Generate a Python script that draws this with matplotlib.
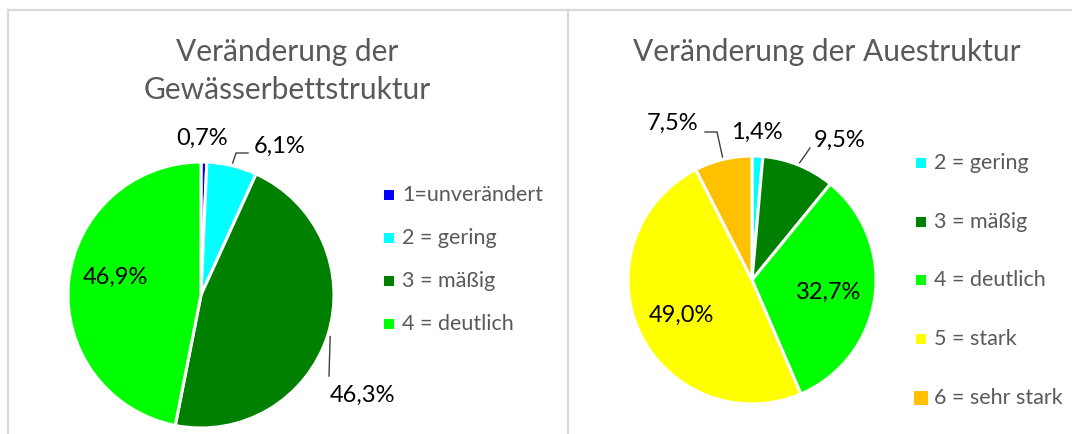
import numpy as np
import matplotlib
matplotlib.use("Agg")
import matplotlib.pyplot as plt

plt.rcParams['font.family'] = ['Lato', 'DejaVu Sans']

# data
bett_labels = ['1=unverändert', '2 = gering', '3 = mäßig', '4 = deutlich']
bett_values = [0.7, 6.1, 46.3, 46.9]
bett_colors = ['#0000FF', '#00FFFF', '#008000', '#00FF00']

aue_labels = ['2 = gering', '3 = mäßig', '4 = deutlich', '5 = stark', '6 = sehr stark']
aue_values = [1.4, 9.5, 32.7, 49.0, 7.5]
aue_colors = ['#00FFFF', '#008000', '#00FF00', '#FFFF00', '#FFC000']

W, H = 1072, 434
GREY = '#595959'

fig = plt.figure(figsize=(W / 100, H / 100), dpi=100)
ax = fig.add_axes([0, 0, 1, 1])


def fmt(v):
    return f'{v:.1f}%'.replace('.', ',')


def draw_pie(values, colors, cx, cy, r, label_pos, leaders):
    wedges, _ = ax.pie(values, colors=colors, startangle=90, counterclock=False,
                       center=(cx, H - cy), radius=r,
                       wedgeprops=dict(edgecolor='white', linewidth=2.2))
    for i, (w, v) in enumerate(zip(wedges, values)):
        tx, ty = label_pos[i]
        ax.text(tx, H - ty, fmt(v), ha='center', va='center', fontsize=17, color='black')
        if i in leaders:
            mid = np.deg2rad((w.theta1 + w.theta2) / 2)
            pts = [(cx + 1.02 * r * np.cos(mid), H - cy + 1.02 * r * np.sin(mid))]
            pts += [(px, H - py) for px, py in leaders[i]]
            xs, ys = zip(*pts)
            ax.plot(xs, ys, color='#404040', lw=1)


def draw_legend(labels, colors, x, y0, dy, sizes=None):
    for i, (lab, c) in enumerate(zip(labels, colors)):
        y = H - (y0 + i * dy)
        s = sizes[i] if sizes else 45
        ax.scatter([x], [y], marker='s', s=s, color=c, linewidths=0)
        ax.text(x + 13, y, lab, ha='left', va='center', fontsize=15.5, color=GREY)


# left chart
draw_pie(bett_values, bett_colors, 201, 295, 133,
         [(202, 138), (280, 146), (362, 395), (115, 277)],
         {1: [(236, 153), (248, 153)], 2: [(329, 376)]})
ax.text(287, H - 52, 'Veränderung der', ha='center', va='center', fontsize=21.5, color=GREY)
ax.text(287, H - 90, 'Gewässerbettstruktur', ha='center', va='center', fontsize=21.5, color=GREY)
draw_legend(bett_labels, bett_colors, 389, 195, 43)

# right chart
draw_pie(aue_values, aue_colors, 752, 280, 124,
         [(757, 132), (840, 140), (829, 292), (681, 315), (673, 123)],
         {1: [(810, 148)], 4: [(717, 132), (705, 132)]})
ax.text(827, H - 52, 'Veränderung der Auestruktur', ha='center', va='center', fontsize=21.5, color=GREY)
draw_legend(aue_labels, aue_colors, 921, 163, 58.7, sizes=[45, 45, 45, 45, 100])

# panel borders
ax.plot([8, W], [H - 10, H - 10], color='#d9d9d9', lw=1.5)
ax.plot([8, 8], [0, H - 10], color='#d9d9d9', lw=1.5)
ax.plot([568, 568], [0, H - 10], color='#d9d9d9', lw=1.5)

ax.set_xlim(0, W)
ax.set_ylim(0, H)
ax.set_aspect('auto')
ax.axis('off')

fig.savefig('out.png', dpi=100)
